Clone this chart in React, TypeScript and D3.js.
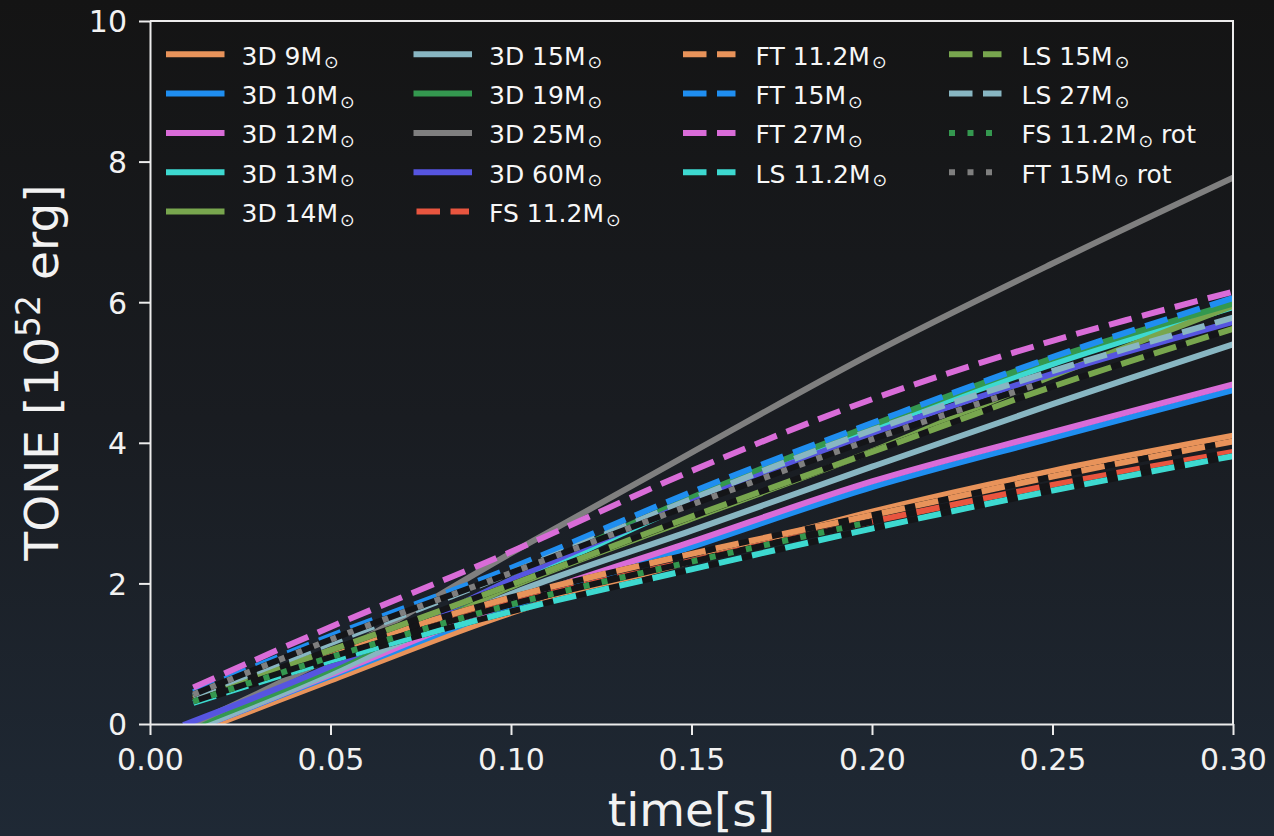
import React, { useEffect, useRef } from "react";
import * as d3 from "d3";

// time grids [s]
const time3D = [0.01, 0.05, 0.1, 0.15, 0.2, 0.25, 0.3];
const time2D = [0.012, 0.05, 0.1, 0.15, 0.2, 0.25, 0.3];
const timeFSrot = [0.012, 0.05, 0.1, 0.15, 0.2];
const timeFTrot = [0.012, 0.05, 0.1, 0.15, 0.2, 0.247];

// TONE values [1e52 erg]
const tone3D9 = [-0.17, 0.62, 1.58, 2.32, 3.02, 3.6, 4.1];
const tone3D10 = [-0.12, 0.68, 1.67, 2.52, 3.37, 4.07, 4.75];
const tone3D12 = [-0.12, 0.7, 1.73, 2.59, 3.45, 4.15, 4.83];
const tone3D13 = [-0.08, 0.76, 1.98, 3.15, 4.2, 5.12, 5.93];
const tone3D14 = [-0.08, 0.74, 1.95, 2.92, 3.88, 4.95, 5.95];
const tone3D15 = [-0.12, 0.72, 1.85, 2.75, 3.66, 4.55, 5.4];
const tone3D19 = [-0.06, 0.78, 2.05, 3.22, 4.25, 5.2, 5.98];
const tone3D25 = [-0.04, 0.95, 2.43, 3.86, 5.27, 6.55, 7.77];
const tone3D60 = [0.0, 0.82, 2.05, 3.15, 4.13, 4.98, 5.72];
const toneFS11 = [0.33, 0.97, 1.72, 2.32, 2.88, 3.4, 3.87];
const toneFT11 = [0.36, 1.02, 1.8, 2.42, 2.97, 3.52, 4.02];
const toneFT15 = [0.45, 1.25, 2.22, 3.3, 4.28, 5.22, 6.06];
const toneFT27 = [0.52, 1.38, 2.45, 3.6, 4.62, 5.45, 6.15];
const toneLS11 = [0.3, 0.9, 1.6, 2.2, 2.78, 3.32, 3.81];
const toneLS15 = [0.38, 1.05, 1.98, 2.95, 3.87, 4.8, 5.62];
const toneLS27 = [0.4, 1.15, 2.15, 3.2, 4.18, 5.02, 5.78];
const toneFS11rot = [0.32, 0.95, 1.7, 2.31, 2.88];
const toneFT15rot = [0.42, 1.2, 2.15, 3.12, 4.05, 4.85];

const xTicks = [0, 0.05, 0.1, 0.15, 0.2, 0.25, 0.3];
const yTicks = [0, 2, 4, 6, 8, 10];

const W = 1274;
const H = 836;
const LW = 6;
const FONT = "DejaVu Sans, sans-serif";

// label, times, values, colour, style, dark gaps
const series = [
    { name: "3D 9M", tail: "", t: time3D, v: tone3D9, color: "#e8935a", style: "solid" },
    { name: "3D 10M", tail: "", t: time3D, v: tone3D10, color: "#1f8ef0", style: "solid" },
    { name: "3D 12M", tail: "", t: time3D, v: tone3D12, color: "#d96cd8", style: "solid" },
    { name: "3D 13M", tail: "", t: time3D, v: tone3D13, color: "#3dd9d0", style: "solid" },
    { name: "3D 14M", tail: "", t: time3D, v: tone3D14, color: "#78a64e", style: "solid" },
    { name: "3D 15M", tail: "", t: time3D, v: tone3D15, color: "#88b6c2", style: "solid" },
    { name: "3D 19M", tail: "", t: time3D, v: tone3D19, color: "#34984f", style: "solid" },
    { name: "3D 25M", tail: "", t: time3D, v: tone3D25, color: "#7f7f7f", style: "solid" },
    { name: "3D 60M", tail: "", t: time3D, v: tone3D60, color: "#5655e0", style: "solid" },
    { name: "FS 11.2M", tail: "", t: time2D, v: toneFS11, color: "#e8553f", style: "dashed", gap: true },
    { name: "FT 11.2M", tail: "", t: time2D, v: toneFT11, color: "#e8935a", style: "dashed", gap: true },
    { name: "FT 15M", tail: "", t: time2D, v: toneFT15, color: "#1f8ef0", style: "dashed" },
    { name: "FT 27M", tail: "", t: time2D, v: toneFT27, color: "#d96cd8", style: "dashed" },
    { name: "LS 11.2M", tail: "", t: time2D, v: toneLS11, color: "#3dd9d0", style: "dashed", gap: true },
    { name: "LS 15M", tail: "", t: time2D, v: toneLS15, color: "#78a64e", style: "dashed", gap: true },
    { name: "LS 27M", tail: "", t: time2D, v: toneLS27, color: "#88b6c2", style: "dashed" },
    { name: "FS 11.2M", tail: " rot", t: timeFSrot, v: toneFS11rot, color: "#34984f", style: "dotted", gap: true },
    { name: "FT 15M", tail: " rot", t: timeFTrot, v: toneFT15rot, color: "#7f7f7f", style: "dotted", gap: true },
];

const dashes = { solid: null, dashed: "23.5,10.5", dotted: "6,12.5" };

export default function App() {
    const svgRef = useRef(null);

    useEffect(() => {
        const svg = d3.select(svgRef.current);
        svg.selectAll("*").remove();

        const plot = { left: 150, right: 1233, top: 21, bottom: 724 };
        const x = d3.scaleLinear().domain([0, 0.3]).range([plot.left, plot.right]);
        const y = d3.scaleLinear().domain([0, 10]).range([plot.bottom, plot.top]);

        // background gradient
        const defs = svg.append("defs");
        const grad = defs
            .append("linearGradient")
            .attr("id", "bg")
            .attr("x1", 0)
            .attr("y1", 0)
            .attr("x2", 0)
            .attr("y2", 1);
        grad.append("stop").attr("offset", "0%").attr("stop-color", "#141414");
        grad.append("stop").attr("offset", "50%").attr("stop-color", "#191c21");
        grad.append("stop").attr("offset", "100%").attr("stop-color", "#1f2935");
        svg.append("rect").attr("width", W).attr("height", H).attr("fill", "url(#bg)");

        defs.append("clipPath")
            .attr("id", "plotClip")
            .append("rect")
            .attr("x", plot.left)
            .attr("y", plot.top)
            .attr("width", plot.right - plot.left)
            .attr("height", plot.bottom - plot.top);

        const line = d3
            .line()
            .x((d) => x(d[0]))
            .y((d) => y(d[1]))
            .curve(d3.curveCatmullRom.alpha(0.5));

        // curves
        const lines = svg.append("g").attr("clip-path", "url(#plotClip)");
        series.forEach((s) => {
            const pts = s.t.map((t, i) => [t, s.v[i]]);
            if (s.gap) {
                lines
                    .append("path")
                    .attr("d", line(pts))
                    .attr("fill", "none")
                    .attr("stroke", "#141518")
                    .attr("stroke-width", LW);
            }
            lines
                .append("path")
                .attr("d", line(pts))
                .attr("fill", "none")
                .attr("stroke", s.color)
                .attr("stroke-width", LW)
                .attr("stroke-linecap", s.style === "solid" ? "square" : "butt")
                .attr("stroke-linejoin", "round")
                .attr("stroke-dasharray", dashes[s.style]);
        });

        // axes
        const axisColor = "#ececec";
        const yAxis = svg
            .append("g")
            .attr("transform", `translate(${plot.left},0)`)
            .call(d3.axisLeft(y).tickValues(yTicks).tickSize(11).tickSizeOuter(0).tickPadding(12));
        yAxis.selectAll("text").attr("dy", "0.36em");

        const xAxis = svg
            .append("g")
            .attr("transform", `translate(0,${plot.bottom})`)
            .call(
                d3
                    .axisBottom(x)
                    .tickValues(xTicks)
                    .tickFormat(d3.format(".2f"))
                    .tickSize(11)
                    .tickSizeOuter(0)
            );
        xAxis.selectAll("text").attr("y", 46).attr("dy", 0);

        [yAxis, xAxis].forEach((a) => {
            a.selectAll("path, line").attr("stroke", axisColor).attr("stroke-width", 2);
            a.selectAll("text")
                .attr("fill", "#f2f2f2")
                .style("font-family", FONT)
                .style("font-size", "30px");
        });

        // top & right spines
        svg.append("path")
            .attr("d", `M${plot.left},${plot.top}H${plot.right}V${plot.bottom}`)
            .attr("fill", "none")
            .attr("stroke", axisColor)
            .attr("stroke-width", 2);

        // axis labels
        svg.append("text")
            .attr("x", (plot.left + plot.right) / 2)
            .attr("y", 826)
            .attr("text-anchor", "middle")
            .attr("fill", "#f2f2f2")
            .style("font-family", FONT)
            .style("font-size", "47px")
            .text("time[s]");

        const yl = svg
            .append("text")
            .attr("transform", `translate(58,${(plot.top + plot.bottom) / 2}) rotate(-90)`)
            .attr("text-anchor", "middle")
            .attr("fill", "#f2f2f2")
            .style("font-family", FONT)
            .style("font-size", "47px");
        yl.append("tspan").text("TONE [10");
        yl.append("tspan").attr("dy", -18).style("font-size", "33px").text("52");
        yl.append("tspan").attr("dy", 18).text(" erg]");

        // legend (4 columns)
        const colX = [169, 416.5, 683, 949];
        const rowsPerCol = [5, 5, 4, 4];
        const handleLen = 52.5;
        const legend = svg.append("g");
        let idx = 0;
        rowsPerCol.forEach((n, c) => {
            for (let r = 0; r < n; r++, idx++) {
                const s = series[idx];
                const ly = 54.3 + r * 39.3;
                const hx = colX[c];
                legend
                    .append("line")
                    .attr("x1", hx)
                    .attr("x2", hx + handleLen)
                    .attr("y1", ly)
                    .attr("y2", ly)
                    .attr("stroke", s.color)
                    .attr("stroke-width", LW)
                    .attr("stroke-linecap", s.style === "solid" ? "square" : "butt")
                    .attr("stroke-dasharray", dashes[s.style]);
                const t = legend
                    .append("text")
                    .attr("x", hx + 72.5)
                    .attr("y", ly + 10.5)
                    .attr("fill", "#f7f7f7")
                    .style("font-family", FONT)
                    .style("font-size", "25px");
                t.append("tspan").text(s.name);
                t.append("tspan").attr("dx", 2).attr("dy", 3.5).style("font-size", "17.5px").text("\u2299");
                if (s.tail) t.append("tspan").attr("dy", -3.5).text(s.tail);
            }
        });
    }, []);

    return (
        <svg
            ref={svgRef}
            width={W}
            height={H}
            style={{ position: "absolute", left: 0, top: 0, display: "block" }}
        ></svg>
    );
}
